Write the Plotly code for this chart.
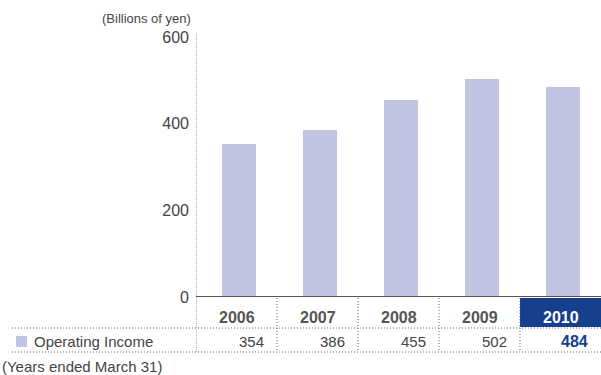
import plotly.graph_objects as go

# Operating income by fiscal year (billions of yen)
years = ["2006", "2007", "2008", "2009", "2010"]
operating_income = [354, 386, 455, 502, 484]
y_ticks = [0, 200, 400, 600]

W, H = 601, 375
BAR = "#c1c5e1"
NAVY = "#163f8e"
GRAY = "#555555"
TEXT = "#444444"
FONT = "Liberation Sans, Arial, sans-serif"


def py(pix):
    """Pixel row (from top) to paper y."""
    return 1 - pix / H


def px(pix):
    """Pixel column to paper x."""
    return pix / W


xs = list(range(len(years)))
bar_w = 0.41

fig = go.Figure()
fig.add_trace(go.Bar(
    x=xs, y=operating_income, width=bar_w, offset=-bar_w / 2 + 0.03,
    marker=dict(color=BAR, line=dict(width=0)),
    hoverinfo="skip", showlegend=False,
))

shapes = []
annotations = []

# dotted y-axis line and column separators
shapes.append(dict(type="line", xref="x", yref="paper", x0=-0.5, x1=-0.5,
                   y0=py(33), y1=py(352), line=dict(color="#666666", width=1, dash="1px,1px")))
for i in range(1, len(years)):
    shapes.append(dict(type="line", xref="x", yref="paper", x0=i - 0.5, x1=i - 0.5,
                       y0=py(298), y1=py(352), line=dict(color="#666666", width=1, dash="1px,2px")))
# table row rules
for row in (328, 352):
    shapes.append(dict(type="line", xref="paper", yref="paper", x0=px(12), x1=1,
                       y0=py(row), y1=py(row), line=dict(color="#666666", width=1, dash="1px,2px")))
# highlighted latest year header
shapes.append(dict(type="rect", xref="x", yref="paper", x0=len(years) - 1.5, x1=len(years) - 0.5,
                   y0=py(327), y1=py(298), fillcolor=NAVY, line=dict(width=0), layer="below"))
# baseline
shapes.append(dict(type="line", xref="x", yref="y", x0=-0.5, x1=len(years) - 0.5,
                   y0=0, y1=0, line=dict(color=GRAY, width=2)))
# legend key
shapes.append(dict(type="rect", xref="paper", yref="paper", x0=px(16), x1=px(27),
                   y0=py(347), y1=py(336), fillcolor=BAR, line=dict(width=0)))

last = len(years) - 1
for i, (yr, v) in enumerate(zip(years, operating_income)):
    annotations.append(dict(
        x=i, y=py(317), xref="x", yref="paper", text=f"<b>{yr}</b>", showarrow=False,
        xanchor="center", yanchor="middle",
        font=dict(family=FONT, size=16, color="#ffffff" if i == last else GRAY)))
    annotations.append(dict(
        x=i + 0.36, y=py(341), xref="x", yref="paper",
        text=f"<b>{v}</b>" if i == last else str(v), showarrow=False,
        xanchor="right", yanchor="middle",
        font=dict(family=FONT, size=16 if i == last else 15, color=NAVY if i == last else TEXT)))

annotations += [
    dict(x=px(193), y=py(18), xref="paper", yref="paper", text="(Billions of yen)",
         showarrow=False, xanchor="right", yanchor="middle",
         font=dict(family=FONT, size=13, color=TEXT)),
    dict(x=px(32), y=py(341), xref="paper", yref="paper", text="Operating Income",
         showarrow=False, xanchor="left", yanchor="middle",
         font=dict(family=FONT, size=15, color=TEXT)),
    dict(x=px(0), y=py(366), xref="paper", yref="paper", text="(Years ended March 31)",
         showarrow=False, xanchor="left", yanchor="middle",
         font=dict(family=FONT, size=15, color=TEXT)),
]

fig.update_layout(
    template="none",
    width=W, height=H,
    margin=dict(l=0, r=0, t=0, b=0, pad=0, autoexpand=False),
    paper_bgcolor="white", plot_bgcolor="white",
    shapes=shapes, annotations=annotations,
    bargap=0, showlegend=False,
    xaxis=dict(domain=[px(196), 1], range=[-0.5, len(years) - 0.5], automargin=False,
               showgrid=False, zeroline=False, showline=False,
               showticklabels=False, ticks="", fixedrange=True),
    yaxis=dict(domain=[py(297), py(37)], range=[0, 600], automargin=False,
               tickvals=y_ticks, ticktext=[str(t) for t in y_ticks],
               showgrid=False, zeroline=False, showline=False,
               ticks="", ticklabelstandoff=6,
               tickfont=dict(family=FONT, size=16, color=TEXT), fixedrange=True),
)

fig.write_html("out.html")
